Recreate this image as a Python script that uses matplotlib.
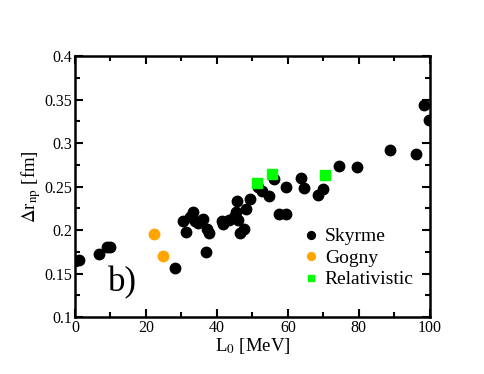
import matplotlib
matplotlib.use('Agg')
import matplotlib.pyplot as plt
from matplotlib.ticker import MultipleLocator, FormatStrFormatter

plt.rcParams['font.family'] = ['Liberation Serif', 'DejaVu Serif']
plt.rcParams['mathtext.fontset'] = 'stix'

# Skyrme
sky_L = [0.1, 1.2, 6.8, 8.9, 9.9, 28.2, 30.5, 31.3, 32.4, 33.3, 33.8, 34.7, 36.0,
         36.9, 37.3, 37.7, 41.4, 41.8, 43.5, 44.8, 45.5, 45.6, 46.0, 46.5, 47.5,
         48.2, 49.3, 51.6, 52.8, 54.6, 56.1, 57.5, 59.6, 59.4, 63.8, 64.6, 68.4,
         69.9, 74.5, 79.4, 88.7, 96.1, 98.4, 99.7]
sky_r = [0.164, 0.166, 0.173, 0.181, 0.181, 0.157, 0.210, 0.198, 0.215, 0.221,
         0.211, 0.208, 0.213, 0.175, 0.201, 0.197, 0.211, 0.207, 0.212, 0.215,
         0.221, 0.233, 0.212, 0.197, 0.201, 0.224, 0.236, 0.250, 0.245, 0.239,
         0.259, 0.219, 0.219, 0.249, 0.260, 0.248, 0.240, 0.247, 0.274, 0.272,
         0.292, 0.287, 0.344, 0.327]
# Gogny
gog_L = [22.3, 24.7]
gog_r = [0.195, 0.170]
# Relativistic
rel_L = [51.4, 55.4, 70.4]
rel_r = [0.254, 0.265, 0.263]

fig = plt.figure(figsize=(4.84, 3.74), dpi=100)
ax = fig.add_axes([0.155, 0.152, 0.733, 0.698])

ax.plot(sky_L, sky_r, 'o', color='black', ms=7.5, ls='none', label='Skyrme')
ax.plot(gog_L, gog_r, 'o', color='#ffa500', ms=7.5, ls='none', label='Gogny')
ax.plot(rel_L, rel_r, 's', color='#00ff00', ms=6.5, ls='none', label='Relativistic')

ax.set_xlim(0, 100)
ax.set_ylim(0.1, 0.4)
ax.xaxis.set_major_locator(MultipleLocator(20))
ax.xaxis.set_minor_locator(MultipleLocator(10))
ax.yaxis.set_major_locator(MultipleLocator(0.05))
ax.yaxis.set_minor_locator(MultipleLocator(0.025))
ax.yaxis.set_major_formatter(FormatStrFormatter('%g'))
ax.tick_params(which='both', direction='in', top=True, right=True, width=1.5, labelsize=11.5, pad=2)
ax.tick_params(which='major', length=6)
ax.tick_params(which='minor', length=3.5)
for s in ax.spines.values():
    s.set_linewidth(1.8)

ax.set_xlabel(r'L$_0$ [MeV]', fontsize=13.5, labelpad=0)
ax.set_ylabel(r'$\Delta$r$_{\rm np}$ [fm]', fontsize=13.5, labelpad=1)

ax.text(13.5, 0.14, 'b)', fontsize=25, ha='center', va='center')

ax.legend(loc='lower right', bbox_to_anchor=(0.955, 0.11), frameon=False, fontsize=14,
          handletextpad=0.1, borderaxespad=0, borderpad=0, labelspacing=0.2,
          handlelength=1.2, markerscale=0.75)

fig.savefig('out.png', dpi=100)
